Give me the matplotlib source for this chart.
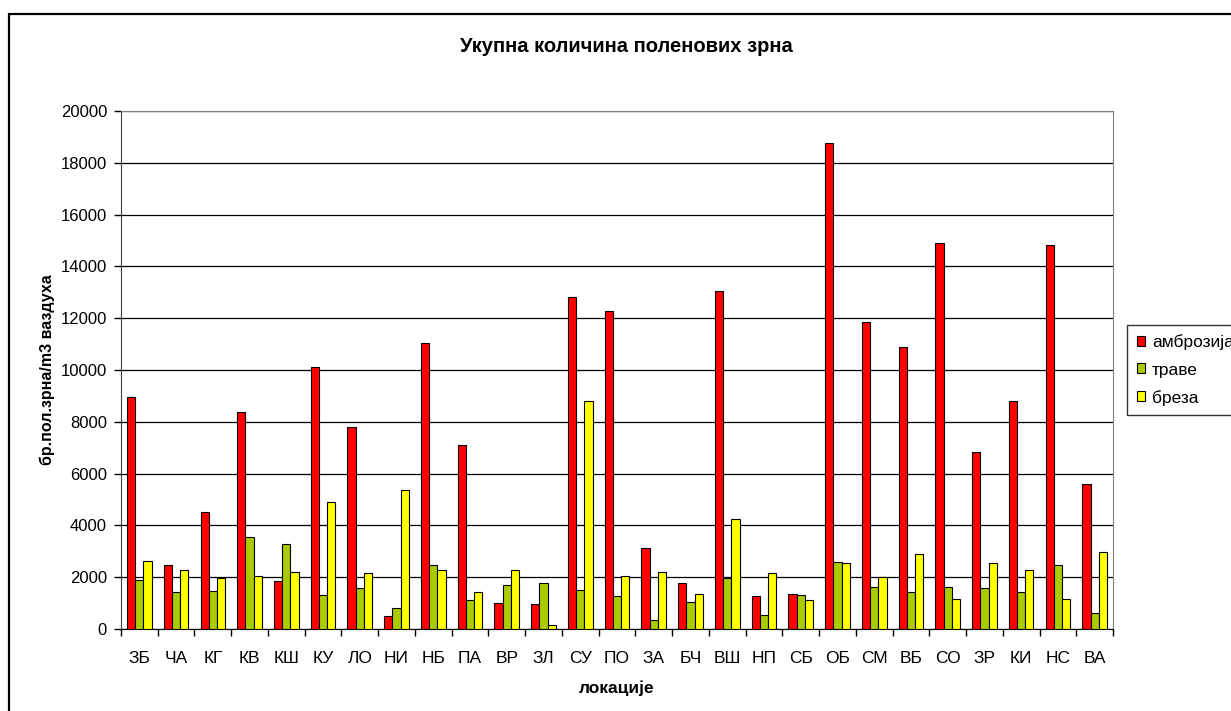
import numpy as np
import matplotlib
matplotlib.use('Agg')
import matplotlib.pyplot as plt
from matplotlib.patches import Rectangle
from matplotlib.ticker import MultipleLocator, FixedLocator

plt.rcParams['font.family'] = ['Liberation Sans', 'DejaVu Sans']

# locations and pollen counts per location
locations = ['ЗБ', 'ЧА', 'КГ', 'КВ', 'КШ', 'КУ', 'ЛО', 'НИ', 'НБ', 'ПА', 'ВР', 'ЗЛ', 'СУ', 'ПО',
             'ЗА', 'БЧ', 'ВШ', 'НП', 'СБ', 'ОБ', 'СМ', 'ВБ', 'СО', 'ЗР', 'КИ', 'НС', 'ВА']
ambrozija = [8950, 2480, 4500, 8380, 1840, 10130, 7790, 510, 11050, 7100, 1010, 950, 12800, 12290,
             3120, 1790, 13060, 1260, 1370, 18780, 11850, 10900, 14920, 6830, 8800, 14830, 5610]
trave = [1900, 1430, 1480, 3540, 3290, 1320, 1570, 800, 2480, 1110, 1690, 1790, 1520, 1260,
         350, 1040, 1960, 530, 1320, 2590, 1640, 1420, 1640, 1570, 1420, 2480, 620]
breza = [2640, 2280, 1950, 2060, 2220, 4920, 2170, 5350, 2280, 1430, 2280, 150, 8800, 2050,
         2220, 1350, 4230, 2170, 1110, 2530, 1990, 2910, 1160, 2540, 2270, 1160, 2960]

series = [('амброзија', ambrozija, '#FF0000'),
          ('траве', trave, '#A8CC00'),
          ('бреза', breza, '#FFFF00')]

W, H = 1231, 711
fig = plt.figure(figsize=(W / 100, H / 100), dpi=100)
ax = fig.add_axes([121 / W, 1 - 629 / H, (1113 - 121) / W, (629 - 111) / H])

x = np.arange(len(locations))
bw = 0.224
for i, (name, vals, col) in enumerate(series):
    ax.bar(x + (i - 1) * bw, vals, width=bw, color=col, edgecolor='black',
           linewidth=0.8, label=name, zorder=3)

ax.set_xlim(-0.5, len(locations) - 0.5)
ax.set_ylim(0, 20000)
ax.yaxis.set_major_locator(MultipleLocator(2000))
ax.grid(axis='y', color='black', linewidth=0.9, zorder=0)
ax.set_axisbelow(True)

ax.set_xticks(x)
ax.set_xticklabels(locations, fontsize=12.5)
ax.xaxis.set_minor_locator(FixedLocator(np.arange(-0.5, len(locations), 1)))
ax.tick_params(axis='x', which='major', length=0, pad=16)
ax.tick_params(axis='x', which='minor', length=5, width=1, color='black')
ax.tick_params(axis='y', length=5, width=1, labelsize=12, pad=5)

for s in ['top', 'right']:
    ax.spines[s].set_color('#808080')
ax.spines['left'].set_color('#404040')
ax.spines['bottom'].set_color('black')

ax.set_xlabel('локације', fontsize=12.5, fontweight='bold', labelpad=10)
ax.set_ylabel('бр.пол.зрна/m3 ваздуха', fontsize=11.5, fontweight='bold')
ax.yaxis.set_label_coords((55 - 121) / (1113 - 121), 0.5)

fig.text(626 / W, 1 - 47 / H, 'Укупна количина поленових зрна', ha='center', va='center',
         fontsize=14.5, fontweight='bold')

leg = fig.legend(loc='upper left', bbox_to_anchor=(1127 / W, 1 - 325 / H), fontsize=12.5,
                 frameon=True, fancybox=False, shadow=False, borderaxespad=0,
                 handlelength=0.5, handleheight=0.5, handletextpad=0.4,
                 labelspacing=0.7, borderpad=0.55)
leg.get_frame().set_edgecolor('black')
leg.get_frame().set_linewidth(1.0)

# outer chart frame
fig.patches.append(Rectangle((8.5 / W, -0.1), 1.2, 1 - 13.5 / H + 0.1, transform=fig.transFigure,
                             fill=False, edgecolor='black', linewidth=1.6))

fig.savefig('out.png', dpi=100, facecolor='white')
